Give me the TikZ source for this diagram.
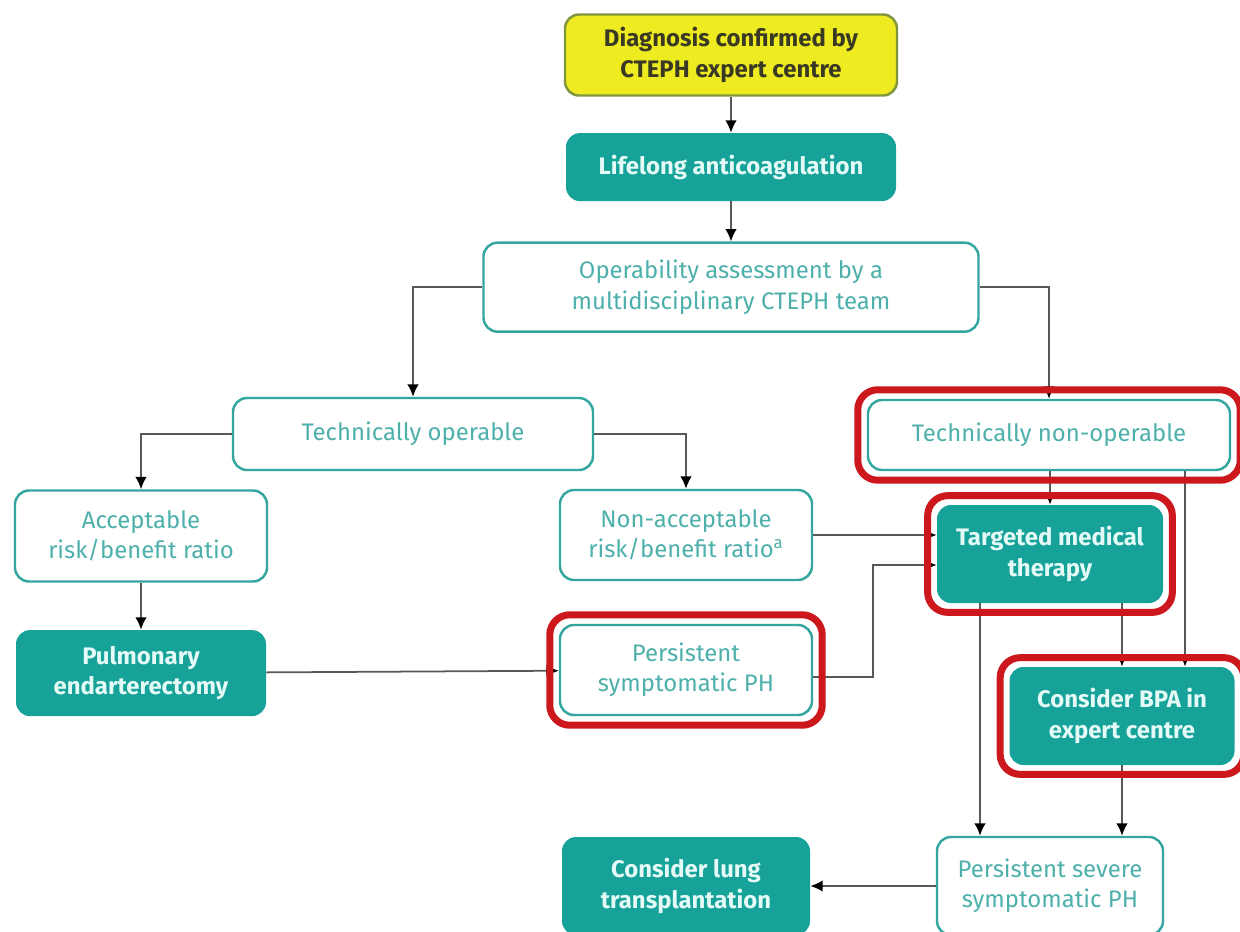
\documentclass[tikz,border=0pt]{standalone}
\usepackage{fontspec}
\setmainfont{Fira Sans}
\usepackage{tikz}
\usepackage{xcolor}
\usetikzlibrary{positioning}
\usetikzlibrary{fit}
\usetikzlibrary{arrows.meta}
\definecolor{tealfill}{RGB}{22,161,153}
\definecolor{tealline}{RGB}{52,166,160}
\definecolor{tealtext}{RGB}{78,176,170}
\definecolor{paletext}{RGB}{228,250,246}
\definecolor{diagfill}{RGB}{238,236,32}
\definecolor{diagline}{RGB}{128,150,62}
\definecolor{diagtext}{RGB}{58,58,36}
\definecolor{ringred}{RGB}{204,24,28}
\definecolor{wire}{RGB}{88,88,88}

\begin{document}
\begin{tikzpicture}[-,>={Latex[length=7pt,width=6.5pt,fill=black,color=black]},auto,
	every node/.style={font=\fontsize{13.6}{17.2}\selectfont, align=center},
	white box/.style={draw=tealline, line width=1.4pt, fill=white, rounded corners=0.28cm, text=tealtext},
	teal box/.style={fill=tealfill, rounded corners=0.28cm, text=paletext, font=\fontsize{13.6}{17.2}\selectfont\bfseries},
	diag box/.style={draw=diagline, line width=1.4pt, fill=diagfill, rounded corners=0.28cm, text=diagtext, font=\fontsize{13.6}{17.2}\selectfont\bfseries},
	red ring/.style={draw=ringred, line width=0.14cm, rounded corners=0.4cm, inner sep=0.18cm},
	wire/.style={draw=wire, line width=1pt},
	arrow/.style={wire, ->}]

  \useasboundingbox[fill=white] (0,0) rectangle (24.8,-18.62);

  \node[diag box, minimum width=6.64cm, minimum height=1.62cm] (diag) at (14.62,-1.10) {Diagnosis confirmed by\\CTEPH expert centre};
  \node[teal box, minimum width=6.6cm, minimum height=1.36cm] (life) [below=0.72cm of diag] {Lifelong anticoagulation};
  \node[white box, minimum width=9.9cm, minimum height=1.78cm] (oper) [below=0.8cm of life] {Operability assessment by a\\multidisciplinary CTEPH team};
  \node[white box, minimum width=7.2cm, minimum height=1.44cm] (techop) at (8.26,-8.68) {Technically operable};
  \node[white box, minimum width=7.24cm, minimum height=1.40cm] (technon) at (20.98,-8.70) {Technically non-operable};
  \node[white box, minimum width=5.04cm, minimum height=1.82cm] (accept) at (2.82,-10.72) {Acceptable\\risk/benefit ratio};
  \node[white box, minimum width=5.04cm, minimum height=1.80cm] (nonacc) at (13.72,-10.70) {Non-acceptable\\risk/benefit ratio\textsuperscript{a}};
  \node[teal box, minimum width=5.0cm, minimum height=1.72cm] (pulm) [below=0.94cm of accept] {Pulmonary\\endarterectomy};
  \node[white box, minimum width=5.04cm, minimum height=1.80cm] (perssym) at (13.72,-13.40) {Persistent\\symptomatic PH};
  \node[teal box, minimum width=4.52cm, minimum height=1.96cm] (target) at (21.0,-11.08) {Targeted medical\\therapy};
  \node[teal box, minimum width=4.5cm, minimum height=1.96cm] (bpa) at (22.44,-14.32) {Consider BPA in\\expert centre};
  \node[white box, minimum width=4.52cm, minimum height=1.96cm] (perssev) at (21.0,-17.72) {Persistent severe\\symptomatic PH};
  \node[teal box, minimum width=4.96cm, minimum height=1.96cm] (lung) at (13.72,-17.72) {Consider lung\\transplantation};
  \coordinate (kink) at (17.46,-11.30);

  \path[arrow] (diag) edge [] (life);
  \path[arrow] (life) edge [] (oper);
  \draw[arrow] (oper.west) -| (techop.north);
  \draw[arrow] (oper.east) -| (technon.north);
  \draw[arrow] (techop.west) -| (accept.north);
  \draw[arrow] (techop.east) -| (nonacc.north);
  \path[arrow] (accept) edge [] (pulm);
  \path[arrow] (pulm) edge [] (perssym);
  \draw[arrow] (nonacc.east) -- (nonacc.east -| target.west);
  \draw[arrow] ([yshift=-0.14cm]perssym.east) -| (kink) -- (kink -| target.west);
  \draw[arrow] (target.north |- technon.south) -- (target.north);
  \draw[arrow] (technon.south -| 23.7,0) -- (bpa.north -| 23.7,0);
  \draw[arrow] (target.south -| bpa.north) -- (bpa.north);
  \draw[arrow] (target.south -| 19.6,0) -- (perssev.north -| 19.6,0);
  \draw[arrow] (bpa.south) -- (bpa.south |- perssev.north);
  \draw[arrow] (perssev.west) -- (lung.east);

  \node[red ring, fit=(technon)] (ring1) {};
  \node[red ring, fit=(target)] (ring2) {};
  \node[red ring, fit=(perssym)] (ring3) {};
  \node[red ring, fit=(bpa)] (ring4) {};
\end{tikzpicture}
\end{document}
